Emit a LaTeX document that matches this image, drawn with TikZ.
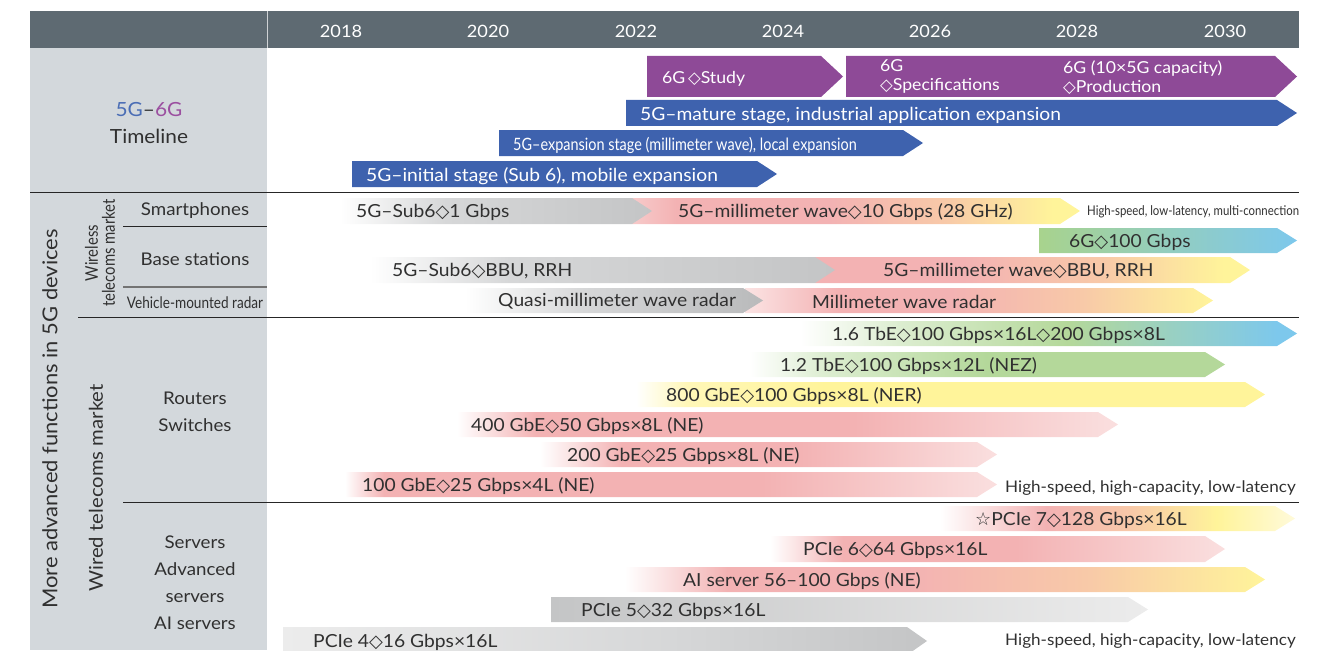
\documentclass[tikz,border=0pt]{standalone}
\usepackage{fontspec}
\setmainfont[FakeStretch=1.07]{Lato}
\newfontfamily\condfont[FakeStretch=0.85]{Lato}
\newfontfamily\symfont{DejaVu Sans}
\newcommand\dia{{\symfont ◇}}
\newcommand\wstar{{\symfont ☆}}

% palette
\definecolor{hdr}{HTML}{5E6A72}
\definecolor{panel}{HTML}{D3D8DC}
\definecolor{txt}{HTML}{303030}
\definecolor{purp}{HTML}{8E4A97}
\definecolor{blu}{HTML}{3E62AE}
\definecolor{c5g}{HTML}{4A6DB5}
\definecolor{c6g}{HTML}{9B4FA0}
\definecolor{gr}{HTML}{C4C5C6}
\definecolor{grl}{HTML}{D6D7D8}
\definecolor{grd}{HTML}{B9BABB}
\definecolor{grx}{HTML}{ECECEC}
\definecolor{pk}{HTML}{F3B2B3}
\definecolor{pkl}{HTML}{F7CACA}
\definecolor{pkll}{HTML}{FBE3E3}
\definecolor{pkf}{HTML}{FADFDF}
\definecolor{pch}{HTML}{F8C9A8}
\definecolor{yl}{HTML}{FFF49A}
\definecolor{yll}{HTML}{FFF7B8}
\definecolor{ylf}{HTML}{FFFADA}
\definecolor{gn}{HTML}{A8D38D}
\definecolor{gn2}{HTML}{B4D89A}
\definecolor{gnl}{HTML}{DCEDD0}
\definecolor{teal}{HTML}{93CDBF}
\definecolor{sky}{HTML}{7DC8EC}

% horizontal shadings: 25bp = left end of a bar, 75bp = its tip
\pgfdeclarehorizontalshading{smgray}{100bp}{color(0bp)=(white); color(25bp)=(white); color(42bp)=(grl); color(75bp)=(gr); color(100bp)=(gr)}
\pgfdeclarehorizontalshading{smpink}{100bp}{color(0bp)=(pkl); color(25bp)=(pkl); color(30bp)=(pk); color(47bp)=(pk); color(60bp)=(pch); color(72bp)=(yl); color(100bp)=(yl)}
\pgfdeclarehorizontalshading{sixg}{100bp}{color(0bp)=(gn); color(25bp)=(gn); color(50bp)=(teal); color(75bp)=(sky); color(100bp)=(sky)}
\pgfdeclarehorizontalshading{bspink}{100bp}{color(0bp)=(pk); color(25bp)=(pk); color(42bp)=(pk); color(58bp)=(pch); color(72bp)=(yl); color(100bp)=(yl)}
\pgfdeclarehorizontalshading{bsgray}{100bp}{color(0bp)=(white); color(25bp)=(white); color(40bp)=(grl); color(75bp)=(gr); color(100bp)=(gr)}
\pgfdeclarehorizontalshading{radpink}{100bp}{color(0bp)=(pkll); color(25bp)=(pkll); color(35bp)=(pk); color(47bp)=(pk); color(61bp)=(pch); color(75bp)=(yl); color(100bp)=(yl)}
\pgfdeclarehorizontalshading{radgray}{100bp}{color(0bp)=(white); color(25bp)=(white); color(45bp)=(grl); color(75bp)=(grd); color(100bp)=(grd)}
\pgfdeclarehorizontalshading{tbsix}{100bp}{color(0bp)=(white); color(25bp)=(white); color(35bp)=(gnl); color(52bp)=(gn2); color(73bp)=(sky); color(100bp)=(sky)}
\pgfdeclarehorizontalshading{tbtwo}{100bp}{color(0bp)=(white); color(25bp)=(white); color(33bp)=(gnl); color(50bp)=(gn2); color(75bp)=(gn2); color(100bp)=(gn2)}
\pgfdeclarehorizontalshading{geeight}{100bp}{color(0bp)=(white); color(25bp)=(white); color(29bp)=(yll); color(40bp)=(yl); color(75bp)=(yl); color(100bp)=(yl)}
\pgfdeclarehorizontalshading{gefour}{100bp}{color(0bp)=(white); color(25bp)=(white); color(31bp)=(pk); color(55bp)=(pk); color(75bp)=(pkf); color(100bp)=(pkf)}
\pgfdeclarehorizontalshading{getwo}{100bp}{color(0bp)=(white); color(25bp)=(white); color(34bp)=(pk); color(53bp)=(pk); color(75bp)=(pkf); color(100bp)=(pkf)}
\pgfdeclarehorizontalshading{geone}{100bp}{color(0bp)=(white); color(25bp)=(white); color(28bp)=(pk); color(57bp)=(pk); color(75bp)=(pkf); color(100bp)=(pkf)}
\pgfdeclarehorizontalshading{pcseven}{100bp}{color(0bp)=(white); color(25bp)=(white); color(40bp)=(pk); color(52bp)=(pch); color(64bp)=(yl); color(75bp)=(ylf); color(100bp)=(ylf)}
\pgfdeclarehorizontalshading{pcsix}{100bp}{color(0bp)=(white); color(25bp)=(white); color(33bp)=(pk); color(52bp)=(pk); color(75bp)=(pkf); color(100bp)=(pkf)}
\pgfdeclarehorizontalshading{aiserv}{100bp}{color(0bp)=(white); color(25bp)=(white); color(33bp)=(pk); color(47bp)=(pk); color(61bp)=(pch); color(75bp)=(yl); color(100bp)=(yl)}
\pgfdeclarehorizontalshading{pcfive}{100bp}{color(0bp)=(gr); color(25bp)=(gr); color(75bp)=(grx); color(100bp)=(grx)}
\pgfdeclarehorizontalshading{pcfour}{100bp}{color(0bp)=(grx); color(25bp)=(grx); color(55bp)=(grl); color(75bp)=(gr); color(100bp)=(gr)}

% arrow-shaped bar: [style]{left x}{tip x}{top y}{bottom y}{tip length}
\newcommand\tlbar[6][]{%
  \path[#1] (#2,#4) -- ({#3-#6},#4) -- (#3,{(#4+#5)/2}) -- ({#3-#6},#5) -- (#2,#5) -- cycle;}

\begin{document}
\begin{tikzpicture}[x=1pt,y=-1pt,
  yearlbl/.style={text=white, font=\fontsize{17}{19}\selectfont, inner sep=0},
  bartext/.style={anchor=west, inner sep=0, yshift=-1.5pt, text=txt, font=\fontsize{18}{20}\selectfont},
  wtext/.style={bartext, text=white},
  rowlbl/.style={align=center, inner sep=0, text=txt, font=\fontsize{17.5}{27}\selectfont},
  notelbl/.style={anchor=west, inner sep=0, text=txt, font=\fontsize{16}{18}\selectfont},
  rule/.style={line width=0.9pt, draw=black!85}]
\useasboundingbox (0,0) rectangle (1332,650);

% header band and left panel
\fill[hdr] (30,11) rectangle (1299,48);
\draw[white!70!hdr, line width=1pt] (267,11) -- (267,48);
\fill[panel] (30,48) rectangle (267,650);

\foreach \yr/\xx in {2018/341,2020/488,2022/636,2024/783,2026/930,2028/1077,2030/1225}
  \node[yearlbl] (y\yr) at (\xx,31) {\yr};

% section rules
\draw[rule] (30,192) -- (1299,192);
\draw[rule] (123,226) -- (267,226);
\draw[line width=1.2pt, draw=black!55] (123,287) -- (267,287);
\draw[rule] (78,317) -- (1299,317);
\draw[rule] (123,502) -- (1299,502);

% left-hand labels
\node[rowlbl, font=\fontsize{19.5}{27}\selectfont] (tl) at (149,123) {{\color{c5g}5G}–{\color{c6g}6G}\\Timeline};
\node[rowlbl, rotate=90, font=\fontsize{20.5}{22}\selectfont] (adv) at (50,419) {More advanced functions in 5G devices};
\node[rowlbl, rotate=90, font=\condfont\fontsize{17.5}{17}\selectfont] (wless) at (100,253) {Wireless\\telecoms market};
\node[rowlbl, rotate=90, font=\fontsize{19}{20}\selectfont] (wired) at (96,488) {Wired telecoms market};
\node[rowlbl] (smart) at (195,211) {Smartphones};
\node[rowlbl] (base) at (195,259) {Base stations};
\node[rowlbl, font=\condfont\fontsize{16}{16}\selectfont] (radar) at (195,303) {Vehicle-mounted radar};
\node[rowlbl] (rout) at (195,412) {Routers\\Switches};
\node[rowlbl] (serv) at (195,583) {Servers\\Advanced\\servers\\AI servers};

% 5G-6G timeline bars
\tlbar[fill=purp]{647}{843}{56}{97}{22}
\tlbar[fill=purp]{846}{1297}{56}{97}{22}
\tlbar[fill=blu]{626}{1297}{100}{126}{20}
\tlbar[fill=blu]{499}{923}{130}{156}{20}
\tlbar[fill=blu]{352}{777}{161}{187}{20}
\node[wtext, font=\fontsize{16.5}{18}\selectfont] (study) at (662,77) {6G\,\dia Study};
\node[wtext, font=\fontsize{16.5}{19}\selectfont, align=left] (spec) at (880,75) {6G\\\dia Specifications};
\node[wtext, font=\fontsize{16.5}{19}\selectfont, align=left] (prod) at (1063,76) {6G (10×5G capacity)\\\dia Production};
\node[wtext] (mature) at (640,114) {5G–mature stage, industrial application expansion};
\node[wtext, font=\condfont\fontsize{17}{18}\selectfont] (expan) at (513,144) {5G–expansion stage (millimeter wave), local expansion};
\node[wtext] (init) at (366,175) {5G–initial stage (Sub 6), mobile expansion};

% wireless market bars
\tlbar[shading=smpink]{632}{1080}{198}{224}{20}
\tlbar[shading=smgray]{340}{652}{198}{224}{20}
\node[bartext] (sm1) at (356,211) {5G–Sub6\dia1 Gbps};
\node[bartext] (sm2) at (678,211) {5G–millimeter wave\dia10 Gbps (28 GHz)};
\node[notelbl, font=\condfont\fontsize{13.4}{16}\selectfont] (smnote) at (1087,212) {High-speed, low-latency, multi-connection};

\tlbar[shading=sixg]{1039}{1297}{228}{253}{20}
\node[bartext] (bs6g) at (1069,241) {6G\dia100 Gbps};
\tlbar[shading=bspink]{815}{1250}{257}{283}{20}
\tlbar[shading=bsgray]{370}{835}{257}{283}{20}
\node[bartext] (bs1) at (392,270) {5G–Sub6\dia BBU, RRH};
\node[bartext] (bs2) at (883,270) {5G–millimeter wave\dia BBU, RRH};

\tlbar[shading=radpink]{745}{1213}{288}{313}{20}
\tlbar[shading=radgray]{465}{763}{288}{313}{20}
\node[bartext] (rd1) at (498,300) {Quasi-millimeter wave radar};
\node[bartext] (rd2) at (812,300) {Millimeter wave radar};

% routers / switches bars
\tlbar[shading=tbsix]{800}{1297}{321}{346}{20}
\node[bartext] (r16) at (832,334) {1.6 TbE\dia100 Gbps×16L\dia200 Gbps×8L};
\tlbar[shading=tbtwo]{749}{1225}{352}{377}{20}
\node[bartext] (r12) at (780,365) {1.2 TbE\dia100 Gbps×12L (NEZ)};
\tlbar[shading=geeight]{636}{1265}{382}{407}{20}
\node[bartext] (r800) at (666,395) {800 GbE\dia100 Gbps×8L (NER)};
\tlbar[shading=gefour]{457}{1118}{412}{437}{20}
\node[bartext] (r400) at (471,425) {400 GbE\dia50 Gbps×8L (NE)};
\tlbar[shading=getwo]{540}{997}{442}{467}{20}
\node[bartext] (r200) at (567,455) {200 GbE\dia25 Gbps×8L (NE)};
\tlbar[shading=geone]{345}{997}{472}{497}{20}
\node[bartext] (r100) at (362,485) {100 GbE\dia25 Gbps×4L (NE)};
\node[notelbl] (rnote) at (1005,488) {High-speed, high-capacity, low-latency};

% servers bars
\tlbar[shading=pcseven]{940}{1295}{506}{531}{20}
\node[bartext] (p7) at (975,519) {\wstar PCIe 7\dia128 Gbps×16L};
\tlbar[shading=pcsix]{770}{1225}{536}{562}{20}
\node[bartext] (p6) at (803,549) {PCIe 6\dia64 Gbps×16L};
\tlbar[shading=aiserv]{625}{1265}{567}{592}{20}
\node[bartext] (ai) at (683,580) {AI server 56–100 Gbps (NE)};
\tlbar[shading=pcfive]{551}{1148}{597}{622}{20}
\node[bartext] (p5) at (581,610) {PCIe 5\dia32 Gbps×16L};
\tlbar[shading=pcfour]{283}{927}{627}{655}{20}
\node[bartext] (p4) at (313,641) {PCIe 4\dia16 Gbps×16L};
\node[notelbl] (snote) at (1005,641) {High-speed, high-capacity, low-latency};
\end{tikzpicture}
\end{document}
